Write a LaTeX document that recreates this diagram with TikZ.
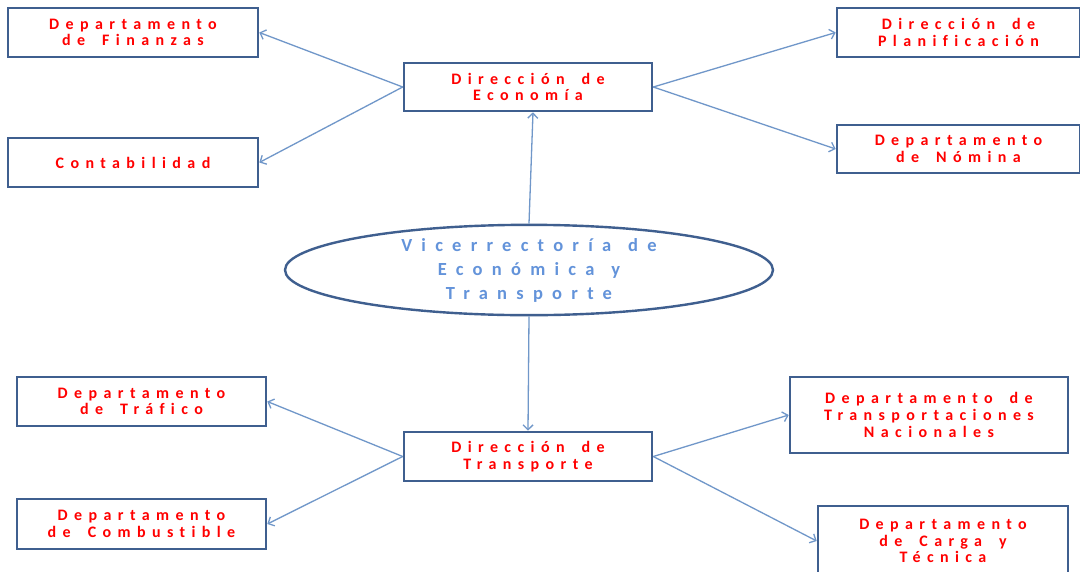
\documentclass[tikz,border=0pt]{standalone}
\usepackage{fontspec}
\setmainfont{Carlito}
\newfontfamily\boxfont[LetterSpace=40,Ligatures=NoCommon]{Carlito}
\newfontfamily\ellfont[LetterSpace=50,Ligatures=NoCommon]{Carlito}
\newcommand{\ws}{\hspace*{17pt}}
\usetikzlibrary{arrows.meta,shapes.geometric}
\definecolor{boxborder}{HTML}{3F5F8F}
\definecolor{arrowblue}{HTML}{7097C9}
\definecolor{ellblue}{HTML}{6393DA}
\begin{document}
\begin{tikzpicture}[x=1pt,y=-1pt,
  box/.style={draw=boxborder,line width=2.6pt,fill=white,inner sep=0pt,align=center,
    text=red,font=\boxfont\bfseries\fontsize{16}{16.7}\selectfont},
  conn/.style={draw=arrowblue,line width=1.3pt,-{Straight Barb[length=5pt,width=10pt]}}]
\useasboundingbox[fill=white] (0,0) rectangle (1080,571);
\node[box,minimum width=250pt,minimum height=49pt] (fin) at (133,32.5) {Departamento\\de\ws{}Finanzas};
\node[box,minimum width=250pt,minimum height=49pt] (cont) at (133,162.5) {Contabilidad};
\node[box,minimum width=248pt,minimum height=48pt] (eco) at (528,87) {Dirección\ws{}de\\Economía};
\node[box,minimum width=243pt,minimum height=49pt] (plan) at (958.5,32.5) {Dirección\ws{}de\\Planificación};
\node[box,minimum width=243pt,minimum height=48pt] (nom) at (958.5,149) {Departamento\\de\ws{}Nómina};
\node[ellipse,draw=boxborder,line width=2.4pt,fill=white,inner sep=0pt,minimum width=488pt,minimum height=89pt,
  align=center,text=ellblue,font=\ellfont\bfseries\fontsize{18.5}{24}\selectfont] (vic) at (529,270) {Vicerrectoría\ws{}de\\Económica\ws{}y\\Transporte};
\node[box,minimum width=249pt,minimum height=49pt] (traf) at (141.5,401.5) {Departamento\\de\ws{}Tráfico};
\node[box,minimum width=248pt,minimum height=49pt] (trans) at (528,456.5) {Dirección\ws{}de\\Transporte};
\node[box,minimum width=249pt,minimum height=50pt] (comb) at (141.5,524) {Departamento\\de\ws{}Combustible};
\node[box,minimum width=278pt,minimum height=76pt] (nac) at (929,415) {Departamento\ws{}de\\Transportaciones\\Nacionales};
\node[box,minimum width=250pt,minimum height=70pt] (carga) at (943,541) {Departamento\\de\ws{}Carga\ws{}y\\Técnica};
\draw[conn] (eco.west) -- (fin.east);
\draw[conn] (eco.west) -- (cont.east);
\draw[conn] (eco.east) -- (plan.west);
\draw[conn] (eco.east) -- (nom.west);
\draw[conn] (vic.north) -- ([xshift=5pt]eco.south);
\draw[conn] (vic.south) -- (trans.north);
\draw[conn] (trans.west) -- (traf.east);
\draw[conn] (trans.west) -- (comb.east);
\draw[conn] (trans.east) -- (nac.west);
\draw[conn] (trans.east) -- (carga.west);
\end{tikzpicture}
\end{document}
